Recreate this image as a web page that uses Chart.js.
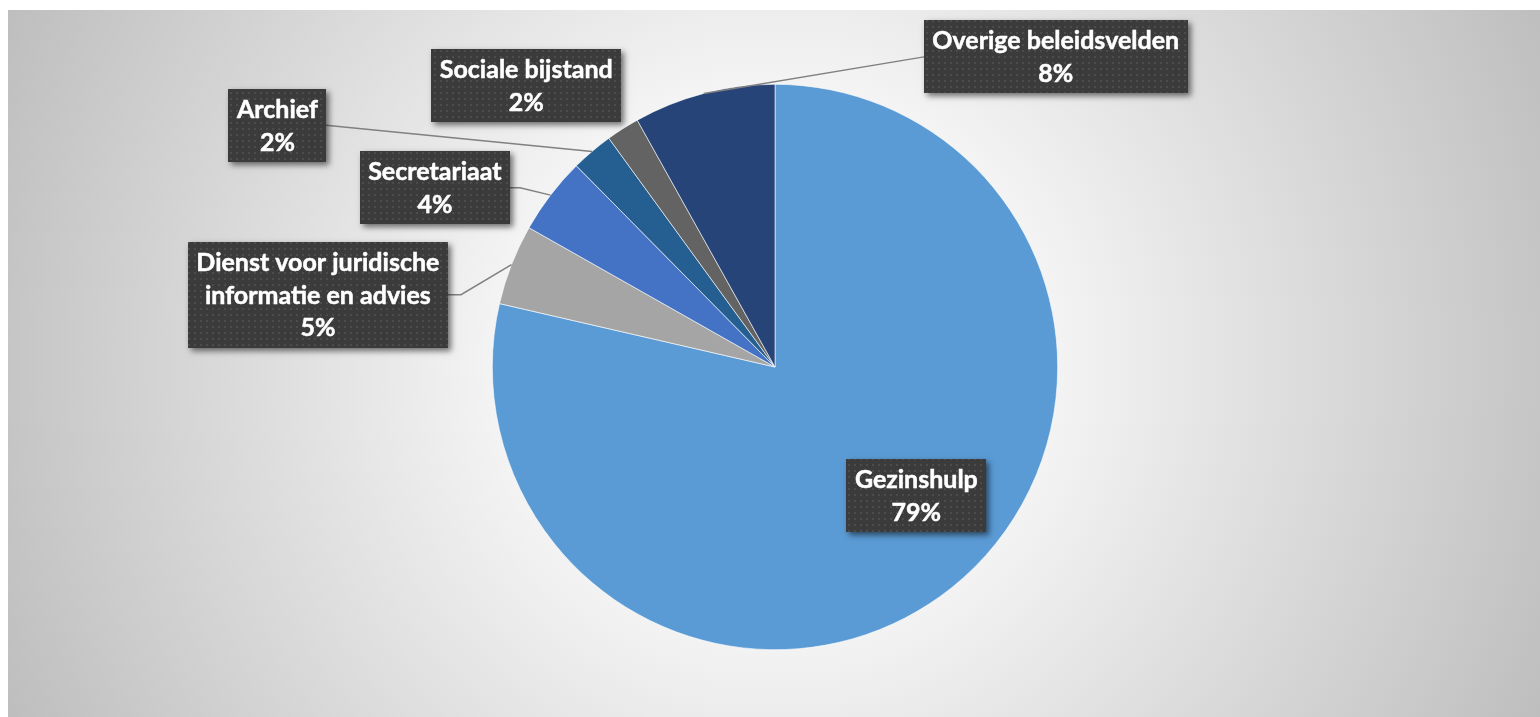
<!DOCTYPE html>
<html><head><meta charset="utf-8">
<script src="https://cdn.jsdelivr.net/npm/chart.js@4.4.1/dist/chart.umd.min.js"></script>
<style>html,body{margin:0;padding:0;background:#fff;overflow:hidden}#wrap{width:1540px;height:717px;position:relative}</style>
</head><body><div id="wrap"><canvas id="c" width="1540" height="717"></canvas></div>
<script>
const categories = ["Gezinshulp","Dienst voor juridische informatie en advies","Secretariaat","Archief","Sociale bijstand","Overige beleidsvelden"];
const labelLines = [["Gezinshulp"],["Dienst voor juridische","informatie en advies"],["Secretariaat"],["Archief"],["Sociale bijstand"],["Overige beleidsvelden"]];
const values = [78.6, 4.6, 4.4, 2.4, 1.9, 8.1];
const colors = ["#5B9BD5","#A5A5A5","#4472C4","#255E91","#636363","#264478"];

// label box centre relative to pie centre, in units of the pie radius
const labelLayout = [
  {dx:0.500, dy:0.454, leader:null},
  {dx:-1.617, dy:-0.256, leader:'right', elbow:13},
  {dx:-1.203, dy:-0.634, leader:'right', elbow:10},
  {dx:-1.760, dy:-0.855, leader:'right', elbow:0},
  {dx:-0.880, dy:-0.996, leader:null},
  {dx:0.993, dy:-1.097, leader:'left', elbow:0}
];

const FONT = 'bold 25px Lato, "Open Sans", sans-serif';
const LINE_H = 32.5;
const PAD_X = 8.5, PAD_Y = 4;

function makePattern(ctx){
  const t = document.createElement('canvas'); t.width = 6; t.height = 6;
  const g = t.getContext('2d');
  g.fillStyle = '#3b3b3b'; g.fillRect(0,0,6,6);
  g.fillStyle = '#4c4c4c'; g.fillRect(2,2,2,2);
  return ctx.createPattern(t,'repeat');
}

const decor = {
  id:'decor',
  beforeDraw(chart){
    const ctx = chart.ctx, W = chart.width, H = chart.height;
    ctx.save();
    ctx.fillStyle = '#ffffff'; ctx.fillRect(0,0,W,H);
    const cx = 775, cy = 360;
    const R = Math.hypot(cx-8, cy-10);
    const g = ctx.createRadialGradient(cx,cy,0,cx,cy,R);
    g.addColorStop(0,'#ffffff');
    g.addColorStop(0.3,'#f6f6f6');
    g.addColorStop(1,'#bebebe');
    ctx.fillStyle = g; ctx.fillRect(8,10,W-8,H-10);
    ctx.restore();
  },
  afterDatasetsDraw(chart){
    const ctx = chart.ctx;
    const meta = chart.getDatasetMeta(0);
    const data = chart.data.datasets[0].data;
    const total = data.reduce((a,b)=>a+b,0);
    const pat = makePattern(ctx);
    ctx.save();
    ctx.font = FONT;
    meta.data.forEach((arc,i)=>{
      const p = arc.getProps(['x','y','startAngle','endAngle','outerRadius'], true);
      const L = labelLayout[i];
      const lines = labelLines[i].concat([Math.round(data[i]/total*100)+'%']);
      let tw = 0; lines.forEach(s=>{tw = Math.max(tw, ctx.measureText(s).width);});
      const bw = Math.round(tw + 2*PAD_X), bh = Math.round(lines.length*LINE_H + 2*PAD_Y);
      const bcx = p.x + L.dx*p.outerRadius, bcy = p.y + L.dy*p.outerRadius;
      const bx = Math.round(bcx - bw/2), by = Math.round(bcy - bh/2);
      if (L.leader){
        const a = (p.startAngle + p.endAngle)/2;
        const ex = p.x + Math.cos(a)*p.outerRadius, ey = p.y + Math.sin(a)*p.outerRadius;
        ctx.beginPath();
        ctx.strokeStyle = '#808080'; ctx.lineWidth = 1.5;
        if (L.leader === 'right'){
          ctx.moveTo(bx+bw, bcy); ctx.lineTo(bx+bw+L.elbow, bcy);
        } else {
          ctx.moveTo(bx, bcy); ctx.lineTo(bx-L.elbow, bcy);
        }
        ctx.lineTo(ex, ey);
        ctx.stroke();
      }
      ctx.save();
      ctx.shadowColor = 'rgba(0,0,0,0.55)';
      ctx.shadowBlur = 6; ctx.shadowOffsetX = 3; ctx.shadowOffsetY = 3;
      ctx.fillStyle = '#3b3b3b';
      ctx.fillRect(bx,by,bw,bh);
      ctx.restore();
      ctx.fillStyle = pat; ctx.fillRect(bx,by,bw,bh);
      ctx.fillStyle = '#ffffff'; ctx.strokeStyle = '#ffffff'; ctx.lineWidth = 0.5;
      ctx.textAlign = 'center'; ctx.textBaseline = 'middle';
      lines.forEach((s,k)=>{
        const ty = by + PAD_Y + LINE_H*(k+0.5) + 1;
        ctx.fillText(s, bcx, ty);
        ctx.strokeText(s, bcx, ty);
      });
    });
    ctx.restore();
  }
};

new Chart(document.getElementById('c'), {
  type:'pie',
  data:{ labels: categories, datasets:[{ data: values, backgroundColor: colors, borderColor:'#ffffff', borderWidth:0.6 }] },
  options:{
    responsive:false, animation:false,
    layout:{ padding:{ top:84, bottom:67, left:10, right:0 } },
    plugins:{ legend:{display:false}, tooltip:{enabled:false} }
  },
  plugins:[decor]
});
</script></body></html>
